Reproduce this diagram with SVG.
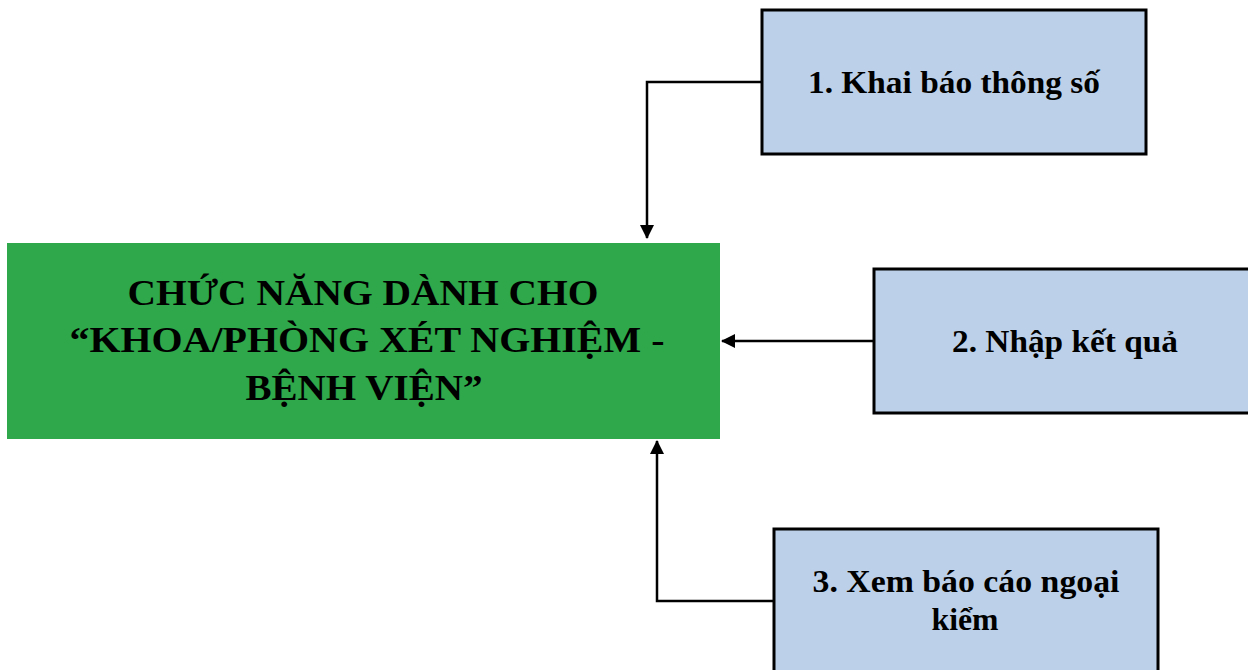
<svg xmlns="http://www.w3.org/2000/svg" width="1248" height="670" viewBox="0 0 1248 670">
<style>
.main{fill:#2ea84a;stroke:none}
.sub{fill:#bdd0e9;stroke:#000;stroke-width:3}
.t{font-family:"Liberation Serif","Times New Roman",serif;font-weight:bold;fill:#000;text-anchor:middle}
.tm{font-size:36px}
.ts{font-size:31px}
.c{fill:none;stroke:#000;stroke-width:2.5}
</style>
<defs>
<marker id="ah" markerWidth="14" markerHeight="14" refX="13" refY="7" orient="auto" markerUnits="userSpaceOnUse">
<path d="M0,0 L14,7 L0,14 z" fill="#000"/>
</marker>
</defs>
<rect width="1248" height="670" fill="#fff"/>
<g id="connectors">
<polyline class="c" points="762,82 647,82 647,238" marker-end="url(#ah)"/>
<polyline class="c" points="874,341 722,341" marker-end="url(#ah)"/>
<polyline class="c" points="774,601 657,601 657,441" marker-end="url(#ah)"/>
</g>
<g id="main">
<rect class="main" x="7" y="243" width="713" height="196"/>
<text class="t tm" x="363" y="305" textLength="471" lengthAdjust="spacingAndGlyphs">CHỨC NĂNG DÀNH CHO</text>
<text class="t tm" x="367" y="352" textLength="595" lengthAdjust="spacingAndGlyphs">“KHOA/PHÒNG XÉT NGHIỆM -</text>
<text class="t tm" x="364" y="400" textLength="237" lengthAdjust="spacingAndGlyphs">BỆNH VIỆN”</text>
</g>
<g id="node1">
<rect class="sub" x="762" y="10" width="384" height="144"/>
<text class="t ts" x="954" y="93" textLength="292" lengthAdjust="spacingAndGlyphs">1. Khai báo thông số</text>
</g>
<g id="node2">
<rect class="sub" x="874" y="269" width="384" height="144"/>
<text class="t ts" x="1065" y="352" textLength="226" lengthAdjust="spacingAndGlyphs">2. Nhập kết quả</text>
</g>
<g id="node3">
<rect class="sub" x="774" y="529" width="384" height="160"/>
<text class="t ts" x="966" y="592" textLength="307" lengthAdjust="spacingAndGlyphs">3. Xem báo cáo ngoại</text>
<text class="t ts" x="965" y="630" textLength="67" lengthAdjust="spacingAndGlyphs">kiểm</text>
</g>
</svg>
